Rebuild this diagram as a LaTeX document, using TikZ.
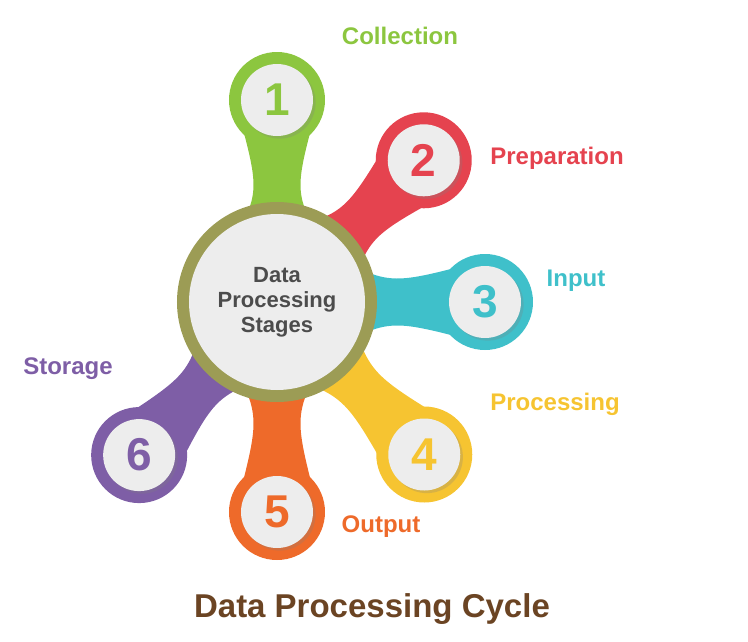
\documentclass[tikz,border=0pt]{standalone}
\usepackage{fontspec}
\setmainfont{Liberation Sans}
\usetikzlibrary{positioning,shadows}
\definecolor{cgreen}{HTML}{8CC63F}
\definecolor{cred}{HTML}{E5434F}
\definecolor{cteal}{HTML}{3FC0CA}
\definecolor{cyellow}{HTML}{F6C431}
\definecolor{corange}{HTML}{EE6A2A}
\definecolor{cpurple}{HTML}{7E5EA6}
\definecolor{colive}{HTML}{9C9C55}
\definecolor{cbrown}{HTML}{6B4423}
\definecolor{cpale}{HTML}{EDEDED}
\begin{document}
\begin{tikzpicture}[x=1pt,y=1pt,
		sat/.style={circle,minimum size=96pt,inner sep=0pt},
		hole/.style={circle,fill=cpale,minimum size=72pt,inner sep=0pt,drop shadow={opacity=0.25},font=\bfseries\fontsize{46}{46}\selectfont},
		lbl/.style={font=\bfseries\fontsize{24}{24}\selectfont}]
	\useasboundingbox (-277,-339) rectangle (471,302);
	
	% satellites and necks
	\foreach \n/\ang/\d/\col in {1/90/202/cgreen,2/44/204/cred,3/0/208/cteal,4/-46/212/cyellow,5/-90/210/corange,6/-132/206/cpurple}{
		\node[sat,fill=\col] (s\n) at (\ang:\d) {};
		\fill[\col,rotate=\ang] (60,-44) .. controls (0.55*\d,-17) and (0.55*\d,-17) .. (\d,-42)
			-- (\d,42) .. controls (0.55*\d,17) and (0.55*\d,17) .. (60,44) -- cycle;
		\node[hole,text=\col] at (s\n) {\n};
	}
	
	% hub
	\node[circle,fill=colive,minimum size=200pt] (hub) at (0,0) {};
	\node[circle,fill=cpale,minimum size=176pt,align=center,text=black!70,
		font=\bfseries\fontsize{22}{25}\selectfont] at (hub) {Data\\Processing\\Stages};
	
	% labels
	\node[lbl,text=cgreen]   at (123,266)  {Collection};
	\node[lbl,text=cred]     at (280,144)  {Preparation};
	\node[lbl,text=cteal]    at (299,21)   {Input};
	\node[lbl,text=cyellow]  at (278,-102) {Processing};
	\node[lbl,text=corange]  at (104,-225) {Output};
	\node[lbl,text=cpurple]  at (-209,-67) {Storage};
	\node[font=\bfseries\fontsize{33}{33}\selectfont,text=cbrown] at (95,-307) {Data Processing Cycle};
\end{tikzpicture}
\end{document}
